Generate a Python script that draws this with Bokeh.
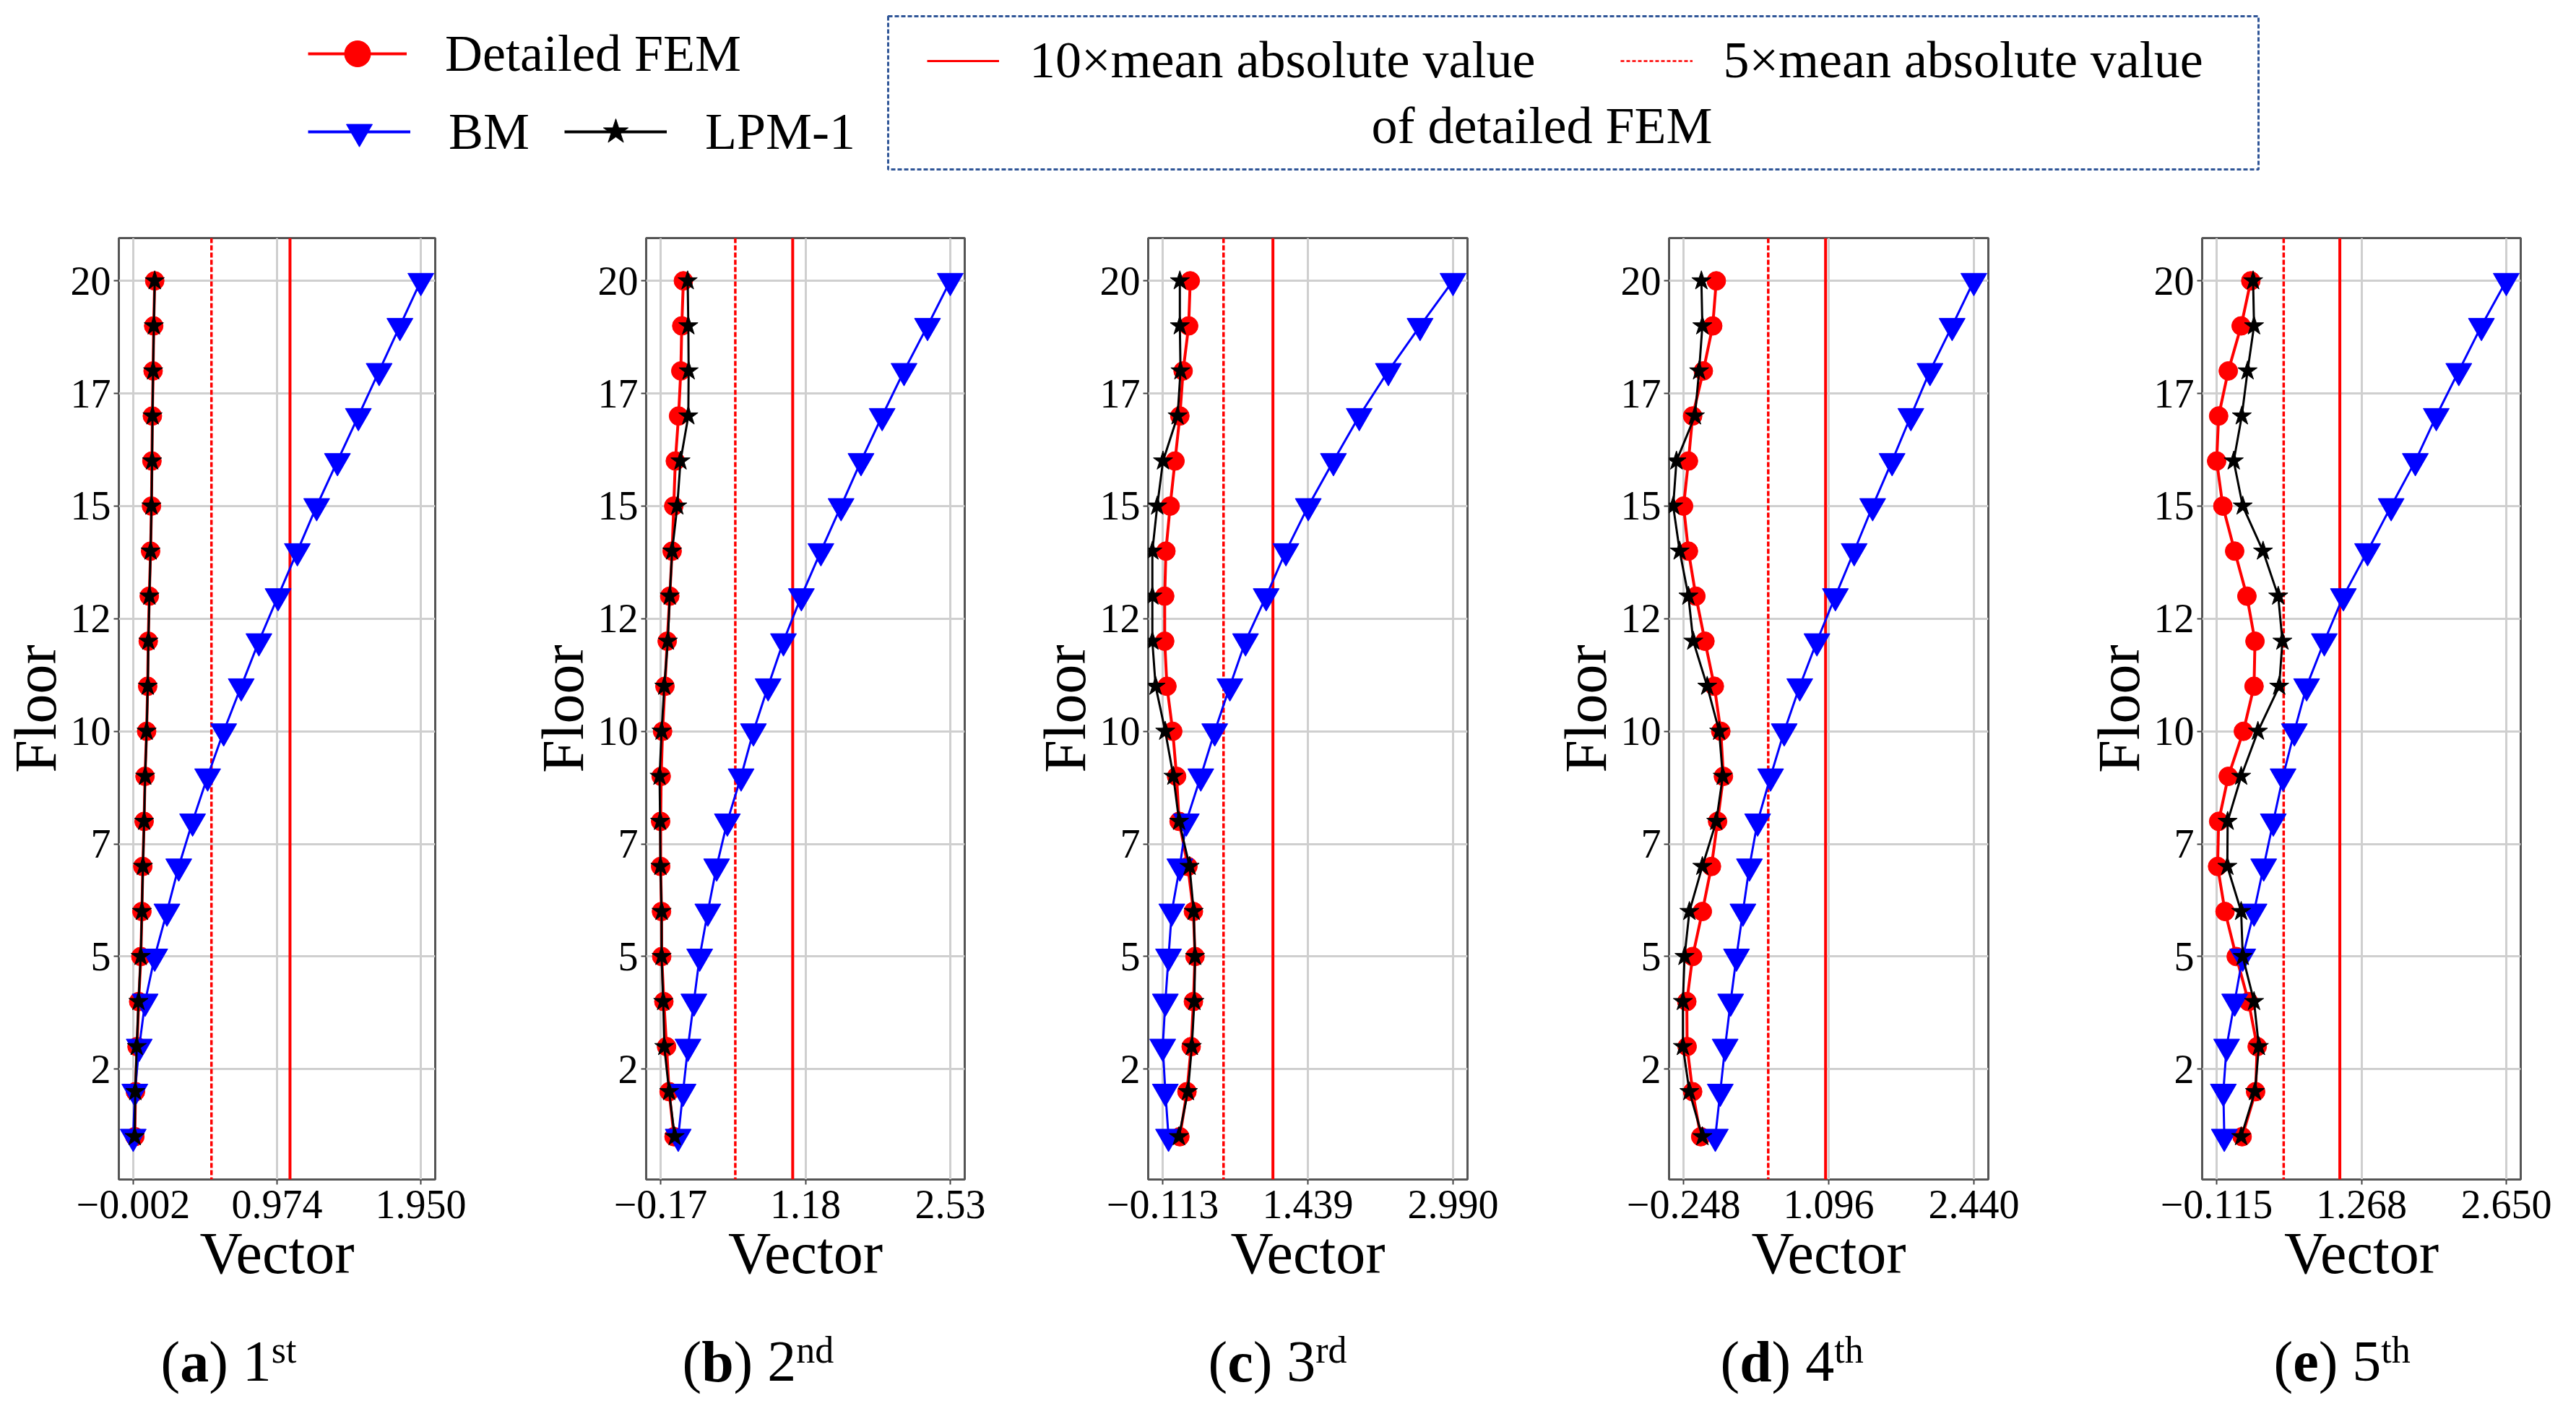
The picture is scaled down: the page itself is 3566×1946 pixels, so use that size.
from bokeh.plotting import figure
from bokeh.layouts import column, row
from bokeh.models import (Range1d, FixedTicker, Span, Legend, LegendItem,
                          Label, BoxAnnotation)
from bokeh.embed import file_html
from bokeh.resources import INLINE

# ---------------------------------------------------------------- data
floors = [1, 2, 3, 4, 5, 6, 7, 8, 9, 10, 11, 12, 13, 14, 15, 16, 17, 18, 19, 20]

# mode 1
fem_1 = [0.009, 0.013, 0.024, 0.035, 0.050, 0.057, 0.063, 0.072, 0.078, 0.089,
         0.096, 0.100, 0.107, 0.116, 0.122, 0.125, 0.128, 0.133, 0.137, 0.144]
lpm_1 = [0.008, 0.012, 0.022, 0.034, 0.049, 0.057, 0.064, 0.072, 0.079, 0.089,
         0.097, 0.101, 0.108, 0.116, 0.122, 0.126, 0.129, 0.133, 0.138, 0.144]
bm_1 = [-0.002, 0.009, 0.039, 0.079, 0.144, 0.227, 0.307, 0.401, 0.503, 0.612,
        0.731, 0.851, 0.981, 1.112, 1.243, 1.384, 1.526, 1.667, 1.808, 1.950]

# mode 2
fem_2 = [-0.045, -0.091, -0.115, -0.140, -0.160, -0.162, -0.170, -0.170, -0.165, -0.152,
         -0.130, -0.109, -0.085, -0.063, -0.048, -0.033, -0.003, 0.018, 0.027, 0.042]
lpm_2 = [-0.039, -0.091, -0.136, -0.146, -0.161, -0.161, -0.172, -0.175, -0.180, -0.161,
         -0.136, -0.103, -0.085, -0.063, -0.015, 0.015, 0.088, 0.091, 0.088, 0.082]
bm_2 = [-0.006, 0.039, 0.085, 0.140, 0.194, 0.270, 0.352, 0.452, 0.580, 0.695,
        0.832, 0.975, 1.142, 1.324, 1.512, 1.698, 1.895, 2.099, 2.318, 2.530]

# mode 3
fem_3 = [0.070, 0.146, 0.191, 0.215, 0.232, 0.215, 0.156, 0.062, 0.035, -0.006,
         -0.068, -0.092, -0.092, -0.079, -0.034, 0.018, 0.070, 0.105, 0.164, 0.181]
lpm_3 = [0.060, 0.156, 0.198, 0.225, 0.232, 0.218, 0.174, 0.062, 0.001, -0.086,
         -0.189, -0.224, -0.224, -0.224, -0.172, -0.110, 0.046, 0.077, 0.070, 0.070]
bm_3 = [-0.051, -0.085, -0.113, -0.085, -0.051, -0.016, 0.070, 0.139, 0.294, 0.443,
        0.605, 0.772, 0.993, 1.204, 1.443, 1.712, 1.988, 2.299, 2.638, 2.990]

# mode 4
fem_4 = [-0.089, -0.164, -0.215, -0.218, -0.164, -0.074, 0.010, 0.067, 0.121, 0.097,
         0.037, -0.050, -0.134, -0.203, -0.248, -0.203, -0.164, -0.065, 0.022, 0.055]
lpm_4 = [-0.074, -0.194, -0.254, -0.254, -0.239, -0.194, -0.074, 0.055, 0.115, 0.082,
         -0.029, -0.158, -0.203, -0.284, -0.344, -0.314, -0.143, -0.104, -0.074, -0.083]
bm_4 = [0.046, 0.092, 0.137, 0.188, 0.242, 0.302, 0.362, 0.438, 0.558, 0.684,
        0.828, 0.987, 1.158, 1.332, 1.503, 1.683, 1.857, 2.034, 2.239, 2.440]

# mode 5
fem_5 = [0.128, 0.257, 0.272, 0.189, 0.072, -0.035, -0.106, -0.096, -0.004, 0.140,
         0.242, 0.251, 0.174, 0.057, -0.056, -0.115, -0.096, -0.004, 0.119, 0.211]
lpm_5 = [0.119, 0.251, 0.288, 0.242, 0.134, 0.119, -0.013, -0.010, 0.119, 0.279,
         0.482, 0.513, 0.473, 0.328, 0.134, 0.048, 0.125, 0.180, 0.242, 0.233]
bm_5 = [-0.042, -0.051, -0.020, 0.057, 0.134, 0.242, 0.334, 0.426, 0.519, 0.627,
        0.744, 0.913, 1.095, 1.326, 1.551, 1.782, 1.982, 2.197, 2.413, 2.650]

# 10x and 5x mean absolute value of detailed FEM
limit_10x = [1.062, 1.061, 1.065, 1.067, 1.061]
limit_5x = [0.529, 0.526, 0.537, 0.536, 0.525]

x_ticks = [[-0.002, 0.974, 1.950], [-0.17, 1.18, 2.53], [-0.113, 1.439, 2.990],
           [-0.248, 1.096, 2.440], [-0.115, 1.268, 2.650]]
x_tick_labels = [["\u22120.002", "0.974", "1.950"], ["\u22120.17", "1.18", "2.53"],
                 ["\u22120.113", "1.439", "2.990"], ["\u22120.248", "1.096", "2.440"],
                 ["\u22120.115", "1.268", "2.650"]]
y_ticks = [2.5, 5, 7.5, 10, 12.5, 15, 17.5, 20]
y_tick_labels = ["2", "5", "7", "10", "12", "15", "17", "20"]

panel_letters = ["a", "b", "c", "d", "e"]
panel_orders = ["1", "2", "3", "4", "5"]
panel_suffixes = ["st", "nd", "rd", "th", "th"]

fem = [fem_1, fem_2, fem_3, fem_4, fem_5]
lpm = [lpm_1, lpm_2, lpm_3, lpm_4, lpm_5]
bm = [bm_1, bm_2, bm_3, bm_4, bm_5]

# ---------------------------------------------------------------- layout
FONT = "Liberation Serif"
PAGE_W = 3550
fig_edges = [8, 700, 1420, 2130, 2860, 3558]
frame_left = [166, 902, 1597, 2318, 3056]
frame_right = [610, 1343, 2039, 2760, 3497]
LEG_TOP = 8
PANEL_TOP, PANEL_BOTTOM = 307, 1807
FRAME_TOP, FRAME_BOTTOM = 337, 1640
CAP_BOTTOM = 1938
caption_x = [230, 952, 1680, 2389, 3155]

LINE_W = 4
FEM_SIZE, BM_SIZE, LPM_SIZE = 26, 36, 28


def make_panel(i):
    lo = min(min(fem[i]), min(bm[i]))
    hi = max(max(fem[i]), max(bm[i]))
    pad = 0.05 * (hi - lo)
    ypad = 0.05 * (max(floors) - min(floors))
    w = fig_edges[i + 1] - fig_edges[i]
    p = figure(width=w, height=PANEL_BOTTOM - PANEL_TOP,
               x_range=Range1d(lo - pad, hi + pad),
               y_range=Range1d(min(floors) - ypad, max(floors) + ypad),
               output_backend="svg", toolbar_location=None,
               min_border_left=frame_left[i] - fig_edges[i],
               min_border_right=fig_edges[i + 1] - frame_right[i],
               min_border_top=FRAME_TOP - PANEL_TOP,
               min_border_bottom=PANEL_BOTTOM - FRAME_BOTTOM)
    p.outline_line_color = "#555555"
    p.outline_line_width = 3
    p.background_fill_color = "white"
    p.border_fill_color = "white"

    p.xaxis.ticker = FixedTicker(ticks=x_ticks[i])
    p.xaxis.major_label_overrides = dict(zip(x_ticks[i], x_tick_labels[i]))
    p.yaxis.ticker = FixedTicker(ticks=y_ticks)
    p.yaxis.major_label_overrides = dict(zip(y_ticks, y_tick_labels))
    p.xaxis.axis_label = "Vector"
    p.yaxis.axis_label = "Floor"
    for ax in (p.xaxis, p.yaxis):
        ax.axis_line_color = None
        ax.minor_tick_line_color = None
        ax.major_tick_in = 0
        ax.major_tick_out = 7
        ax.major_tick_line_color = "#444444"
        ax.major_tick_line_width = 2
        ax.major_label_text_font = FONT
        ax.major_label_text_font_size = "56px"
        ax.major_label_text_color = "black"
        ax.axis_label_text_font = FONT
        ax.axis_label_text_font_size = "82px"
        ax.axis_label_text_font_style = "normal"
        ax.axis_label_text_color = "black"
    p.xaxis.major_label_standoff = 8
    p.yaxis.major_label_standoff = 4
    p.xaxis.axis_label_standoff = 0
    p.yaxis.axis_label_standoff = 0
    p.grid.grid_line_color = "#cfcfcf"
    p.grid.grid_line_width = 3

    p.add_layout(Span(location=limit_10x[i], dimension="height", line_color="red",
                      line_width=4, level="underlay"))
    p.add_layout(Span(location=limit_5x[i], dimension="height", line_color="red",
                      line_width=3.5, line_dash="7 3", level="underlay"))

    p.line(fem[i], floors, line_color="red", line_width=LINE_W)
    p.scatter(fem[i], floors, marker="circle", size=FEM_SIZE, color="red")
    p.line(bm[i], floors, line_color="blue", line_width=LINE_W - 1)
    p.scatter(bm[i], floors, marker="inverted_triangle", size=BM_SIZE, color="blue")
    p.line(lpm[i], floors, line_color="black", line_width=LINE_W - 1)
    p.scatter(lpm[i], floors, marker="star", size=LPM_SIZE, color="black")
    return p


panels = [make_panel(i) for i in range(5)]

# ---------------------------------------------------------------- legend strip
leg = figure(width=PAGE_W, height=PANEL_TOP - LEG_TOP, x_range=Range1d(8, 8 + PAGE_W),
             y_range=Range1d(PANEL_TOP, LEG_TOP), output_backend="svg",
             toolbar_location=None, x_axis_location=None, y_axis_location=None,
             min_border=0)
leg.outline_line_color = None
leg.grid.visible = False

# one point each, far outside the visible range: only the legend shows them
off = [-1000]
r_fem_l = leg.line(off, off, line_color="red", line_width=LINE_W)
r_fem_m = leg.scatter(off, off, marker="circle", color="red")
r_bm_l = leg.line(off, off, line_color="blue", line_width=LINE_W)
r_bm_m = leg.scatter(off, off, marker="inverted_triangle", color="blue")
r_lpm_l = leg.line(off, off, line_color="black", line_width=LINE_W)
r_lpm_m = leg.scatter(off, off, marker="star", color="black")
r_10x = leg.line(off, off, line_color="red", line_width=3)
r_5x = leg.line(off, off, line_color="red", line_width=2.5, line_dash="5 3")


def style_legend(lg):
    lg.label_text_font = FONT
    lg.label_text_font_size = "72px"
    lg.label_text_color = "black"
    lg.padding = 0
    lg.margin = 0
    lg.border_line_color = None
    lg.background_fill_alpha = 0
    return lg


leg1 = style_legend(Legend(items=[LegendItem(label="Detailed FEM", renderers=[r_fem_l, r_fem_m])],
                           location=(426, 180), glyph_width=137, glyph_height=90,
                           label_standoff=53))
leg2 = style_legend(Legend(items=[LegendItem(label="BM", renderers=[r_bm_l, r_bm_m]),
                                  LegendItem(label="LPM-1", renderers=[r_lpm_l, r_lpm_m])],
                           location=(426, 72), orientation="horizontal",
                           glyph_width=142, glyph_height=90, label_standoff=53,
                           spacing=48))
leg3 = style_legend(Legend(items=[LegendItem(label="10\u00d7mean absolute value", renderers=[r_10x]),
                                  LegendItem(label="5\u00d7mean absolute value", renderers=[r_5x])],
                           location=(1283, 174), orientation="horizontal",
                           glyph_width=100, glyph_height=60, label_standoff=42,
                           spacing=118))
for lg in (leg1, leg2, leg3):
    leg.add_layout(lg)

leg.add_layout(BoxAnnotation(left=1237, right=3134, top=30, bottom=242,
                             fill_alpha=0, line_color="#2f5597", line_alpha=1,
                             line_width=3, line_dash="6 3"))
leg.add_layout(Label(x=2142, y=181, text="of detailed FEM", text_align="center",
                     text_baseline="middle", text_font=FONT, text_font_size="72px",
                     text_color="black"))

# ---------------------------------------------------------------- captions
cap = figure(width=PAGE_W, height=CAP_BOTTOM - PANEL_BOTTOM, x_range=Range1d(8, 8 + PAGE_W),
             y_range=Range1d(CAP_BOTTOM, PANEL_BOTTOM), output_backend="svg",
             toolbar_location=None, x_axis_location=None, y_axis_location=None,
             min_border=0)
cap.outline_line_color = None
cap.grid.visible = False

CAP_MID = 1892
SUP_MID = 1876
CAP_PX = 80
bold_w = {"a": 0.5, "b": 0.556, "c": 0.444, "d": 0.556, "e": 0.444}
for i in range(5):
    x0 = caption_x[i]
    lw = bold_w[panel_letters[i]] * CAP_PX
    parts = [
        ("(", x0, CAP_MID, "normal", CAP_PX),
        (panel_letters[i], x0 + 0.333 * CAP_PX, CAP_MID, "bold", CAP_PX),
        (")", x0 + 0.333 * CAP_PX + lw, CAP_MID, "normal", CAP_PX),
        (panel_orders[i], x0 + 0.916 * CAP_PX + lw, CAP_MID, "normal", CAP_PX),
        (panel_suffixes[i], x0 + 1.416 * CAP_PX + lw, SUP_MID, "normal", 52),
    ]
    for txt, x, y, style, fs in parts:
        cap.add_layout(Label(x=x, y=y, text=txt, text_align="left",
                             text_baseline="middle", text_font=FONT,
                             text_font_size="%dpx" % fs, text_font_style=style,
                             text_color="black"))

layout = column(leg, row(*panels), cap)
open("out.html", "w").write(file_html(layout, INLINE))
